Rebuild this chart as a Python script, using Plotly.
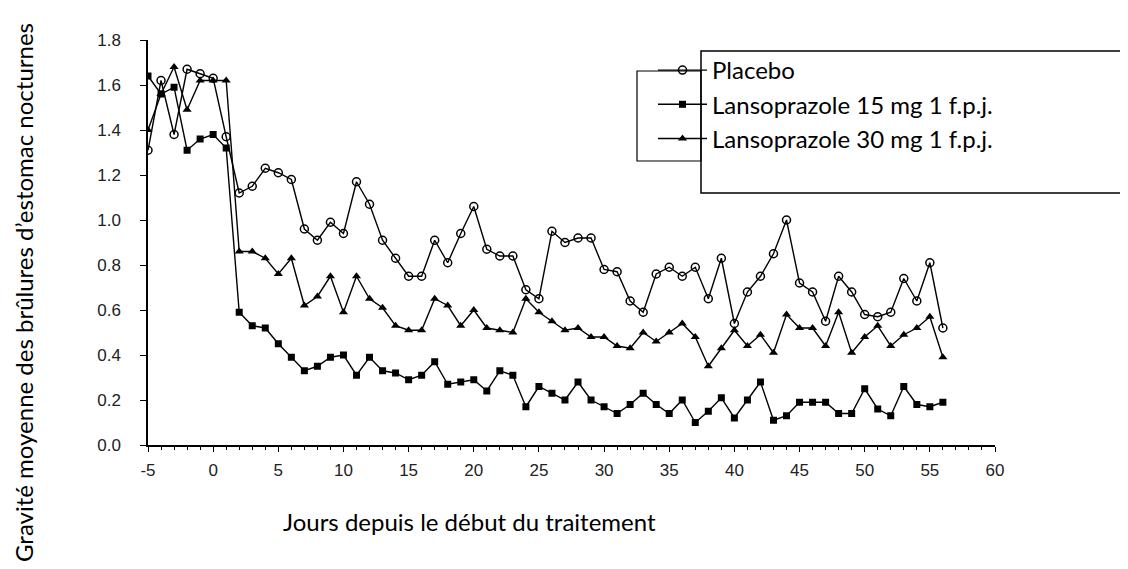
import plotly.graph_objects as go

days = [-5, -4, -3, -2, -1, 0, 1, 2, 3, 4, 5, 6, 7, 8, 9, 10, 11, 12, 13, 14, 15, 16, 17, 18, 19, 20,
        21, 22, 23, 24, 25, 26, 27, 28, 29, 30, 31, 32, 33, 34, 35, 36, 37, 38, 39, 40,
        41, 42, 43, 44, 45, 46, 47, 48, 49, 50, 51, 52, 53, 54, 55, 56]

placebo = [1.31, 1.62, 1.38, 1.67, 1.65, 1.63, 1.37, 1.12, 1.15, 1.23, 1.21, 1.18, 0.96, 0.91, 0.99, 0.94,
           1.17, 1.07, 0.91, 0.83, 0.75, 0.75, 0.91, 0.81, 0.94, 1.06, 0.87, 0.84, 0.84, 0.69, 0.65,
           0.95, 0.90, 0.92, 0.92, 0.78, 0.77, 0.64, 0.59, 0.76, 0.79, 0.75, 0.79, 0.65, 0.83, 0.54,
           0.68, 0.75, 0.85, 1.00, 0.72, 0.68, 0.55, 0.75, 0.68, 0.58, 0.57, 0.59, 0.74, 0.64, 0.81, 0.52]

lanso15 = [1.64, 1.56, 1.59, 1.31, 1.36, 1.38, 1.32, 0.59, 0.53, 0.52, 0.45, 0.39, 0.33, 0.35, 0.39, 0.40,
           0.31, 0.39, 0.33, 0.32, 0.29, 0.31, 0.37, 0.27, 0.28, 0.29, 0.24, 0.33, 0.31, 0.17, 0.26,
           0.23, 0.20, 0.28, 0.20, 0.17, 0.14, 0.18, 0.23, 0.18, 0.14, 0.20, 0.10, 0.15, 0.21, 0.12,
           0.20, 0.28, 0.11, 0.13, 0.19, 0.19, 0.19, 0.14, 0.14, 0.25, 0.16, 0.13, 0.26, 0.18, 0.17, 0.19]

lanso30 = [1.40, 1.56, 1.68, 1.49, 1.62, 1.62, 1.62, 0.86, 0.86, 0.83, 0.76, 0.83, 0.62, 0.66, 0.75, 0.59,
           0.75, 0.65, 0.61, 0.53, 0.51, 0.51, 0.65, 0.62, 0.53, 0.60, 0.52, 0.51, 0.50, 0.65, 0.59,
           0.55, 0.51, 0.52, 0.48, 0.48, 0.44, 0.43, 0.50, 0.46, 0.50, 0.54, 0.48, 0.35, 0.43, 0.51,
           0.44, 0.49, 0.41, 0.58, 0.52, 0.52, 0.44, 0.59, 0.41, 0.48, 0.53, 0.44, 0.49, 0.52, 0.57, 0.39]

series_names = ["Placebo", "Lansoprazole 15 mg 1 f.p.j.", "Lansoprazole 30 mg 1 f.p.j."]
x_ticks = [-5, 0, 5, 10, 15, 20, 25, 30, 35, 40, 45, 50, 55, 60]
x_tick_labels = ["-5", "0", "5", "10", "15", "20", "25", "30", "35", "40", "45", "50", "55", "60"]
y_ticks = [0.0, 0.2, 0.4, 0.6, 0.8, 1.0, 1.2, 1.4, 1.6, 1.8]
y_tick_labels = ["0.0", "0.2", "0.4", "0.6", "0.8", "1.0", "1.2", "1.4", "1.6", "1.8"]

x_title = "Jours depuis le début du traitement"
y_title = "Gravité moyenne des brûlures d’estomac nocturnes"

fig = go.Figure()
styles = [
    (placebo, dict(symbol="circle-open", size=8, color="black", line=dict(width=1.5, color="black"))),
    (lanso15, dict(symbol="square", size=7, color="black")),
    (lanso30, dict(symbol="triangle-up", size=8, color="black")),
]
for name, (vals, mk) in zip(series_names, styles):
    fig.add_trace(go.Scatter(x=days, y=vals, mode="lines+markers", name=name,
                             line=dict(color="black", width=1.4), marker=mk))

W, H = 1128, 569
L, R, T, B = 140, 141, 32, 132
pw, ph = W - L - R, H - T - B

def px_x(p):
    return (p - L) / pw

def px_y(p):
    return (H - B - p) / ph

TXT = "Lato"
fig.update_layout(
    width=W, height=H,
    margin=dict(l=L, r=R, t=T, b=B),
    paper_bgcolor="white", plot_bgcolor="white",
    font=dict(family="Arial", color="#222"),
    showlegend=True,
    legend=dict(x=px_x(645), y=px_y(40), xanchor="left", yanchor="top",
                bgcolor="rgba(0,0,0,0)", borderwidth=0, itemwidth=49,
                font=dict(family=TXT, size=24, color="black"), tracegroupgap=0),
    xaxis=dict(range=[-5, 60], showline=True, linecolor="black", linewidth=1.5,
               tickmode="array", tickvals=x_ticks, ticktext=x_tick_labels,
               ticks="outside", ticklen=5, tickcolor="black", ticklabelstandoff=4,
               tickfont=dict(size=17, color="#222"), showgrid=False, zeroline=False,
               minor=dict(dtick=1, ticks="outside", ticklen=3, tickcolor="black")),
    yaxis=dict(range=[0, 1.8], showline=True, linecolor="black", linewidth=1.5,
               tickmode="array", tickvals=y_ticks, ticktext=y_tick_labels,
               ticks="outside", ticklen=6, tickcolor="black", ticklabelstandoff=16,
               tickfont=dict(size=17, color="#222"), showgrid=False, zeroline=False),
    annotations=[
        dict(text=x_title, xref="paper", yref="paper", x=px_x(461), y=px_y(513),
             xanchor="center", yanchor="middle", showarrow=False,
             font=dict(family=TXT, size=24, color="black")),
        dict(text=y_title, xref="paper", yref="paper", x=px_x(15), y=px_y(285),
             xanchor="center", yanchor="middle", showarrow=False, textangle=-90,
             font=dict(family=TXT, size=24, color="black")),
    ],
    shapes=[
        dict(type="rect", xref="paper", yref="paper", x0=px_x(629), x1=px_x(693),
             y0=px_y(153), y1=px_y(63), line=dict(color="black", width=1.2)),
        dict(type="rect", xref="paper", yref="paper", x0=px_x(693), x1=px_x(1125),
             y0=px_y(185), y1=px_y(43), line=dict(color="black", width=1.5),
             fillcolor="rgba(0,0,0,0)"),
    ],
)

fig.write_html("out.html")
